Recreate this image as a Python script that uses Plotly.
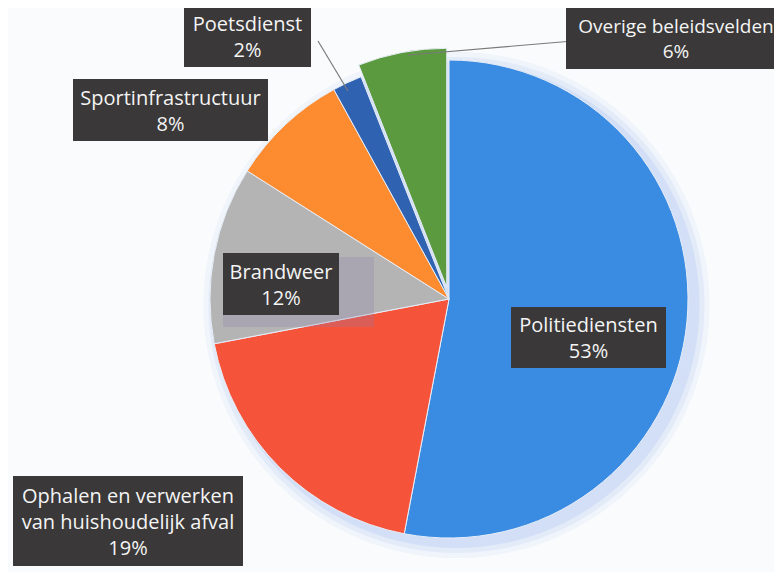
import plotly.graph_objects as go

W, H = 782, 572

labels = ["Politiediensten", "Ophalen en verwerken<br>van huishoudelijk afval", "Brandweer",
          "Sportinfrastructuur", "Poetsdienst", "Overige beleidsvelden"]
values = [53, 19, 12, 8, 2, 6]
colors = ["#3a8be2", "#f6533b", "#b4b4b4", "#fd8b30", "#2f62b0", "#5b9a3e"]
pulls = [0, 0, 0, 0, 0, 0.05]

# label box layout in pixels: centre x, centre y (from top), width, height, font size
label_boxes = [(587.5, 337.5, 155, 61, 20), (127, 520, 230, 90, 20), (280, 284, 116, 62, 20),
               (169.5, 109, 195, 62, 20), (246.5, 36, 127, 62, 20), (675, 37.5, 220, 61, 19)]
# plotly draws fixed-size annotation boxes slightly offset; compensate (pixels)
box_dx, box_dy = -7.5, -7.5

cx, cy, r = 448.5, 297, 239
# plotly offsets the pie centre to make room for the pulled slice; compensate
dcx, dcy = -7.5, -6
half = r * (1 + max(pulls))

def px(x):
    return x / W

def py(y):
    return 1 - y / H

fig = go.Figure()
fig.add_trace(go.Pie(
    labels=labels, values=values, sort=False, direction="clockwise", rotation=0,
    marker=dict(colors=colors, line=dict(color="#e8eef8", width=1)),
    pull=pulls, textinfo="none", hoverinfo="label+percent", showlegend=False,
    domain=dict(x=[px(cx + dcx - half), px(cx + dcx + half)],
                y=[py(cy + dcy + half), py(cy + dcy - half)]),
))

shapes = []
# soft glow around the pie
for g, col in [(14, "rgba(210,222,248,0.25)"), (9, "rgba(200,215,246,0.3)"), (4, "rgba(185,205,245,0.4)")]:
    shapes.append(dict(type="circle", xref="paper", yref="paper", layer="below",
                       x0=px(cx - r - g), x1=px(cx + r + g), y0=py(cy + r + g), y1=py(cy - r - g),
                       fillcolor=col, line=dict(width=0)))
# shadow frame behind Brandweer label
shapes.append(dict(type="rect", xref="paper", yref="paper", layer="above",
                   x0=px(215), x1=px(366), y0=py(319), y1=py(249),
                   fillcolor="rgba(135,125,170,0.25)", line=dict(width=0)))
# leader lines
for (x0, y0, x1, y1) in [(310, 33, 340, 83), (565, 33, 400, 47)]:
    shapes.append(dict(type="line", xref="paper", yref="paper", layer="above",
                       x0=px(x0), y0=py(y0), x1=px(x1), y1=py(y1),
                       line=dict(color="#7a7a7a", width=1.2)))

annotations = []
for lab, val, (x, y, w, h, fs) in zip(labels, values, label_boxes):
    annotations.append(dict(
        text=f"{lab}<br>{val}%", x=px(x + box_dx), y=py(y + box_dy), xref="paper", yref="paper",
        showarrow=False, xanchor="center", yanchor="middle", align="center", valign="middle",
        width=w, height=h,
        font=dict(family="'Open Sans', Lato, sans-serif", size=fs, color="#f4f4f4"),
        bgcolor="#3a3838", borderpad=0, borderwidth=0,
    ))

fig.update_layout(
    width=W, height=H, margin=dict(l=0, r=0, t=0, b=0),
    paper_bgcolor="#fafbfd", plot_bgcolor="#fafbfd",
    shapes=shapes, annotations=annotations,
)

fig.write_html("out.html")
